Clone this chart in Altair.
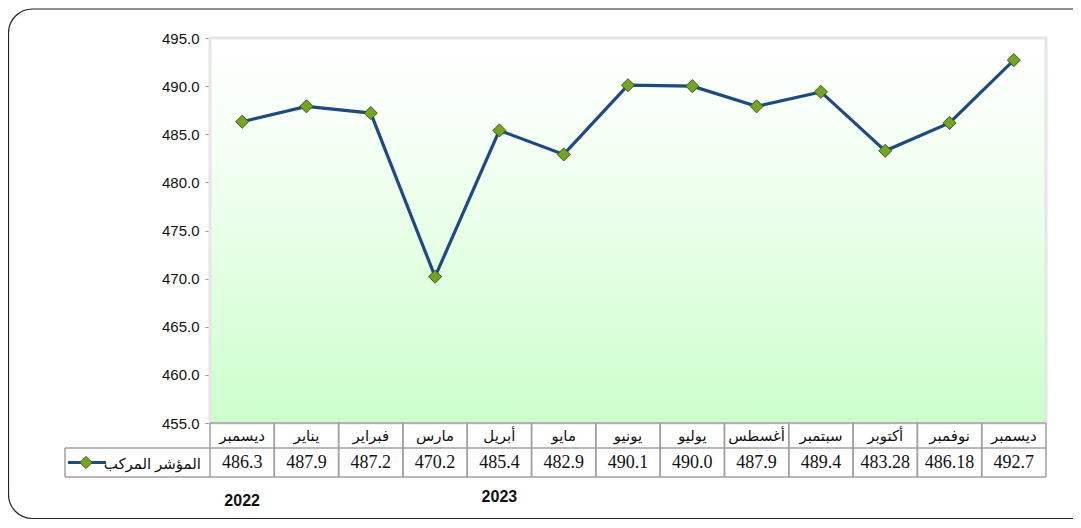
import altair as alt
import pandas as pd

# ---- data ----
keys = ["2022-12", "2023-01", "2023-02", "2023-03", "2023-04", "2023-05", "2023-06",
        "2023-07", "2023-08", "2023-09", "2023-10", "2023-11", "2023-12"]
months = ["ديسمبر", "يناير", "فبراير", "مارس", "أبريل", "مايو", "يونيو",
          "يوليو", "أغسطس", "سبتمبر", "أكتوبر", "نوفمبر", "ديسمبر"]
values = [486.3, 487.9, 487.2, 470.2, 485.4, 482.9, 490.1,
          490.0, 487.9, 489.4, 483.28, 486.18, 492.7]
value_labels = ["486.3", "487.9", "487.2", "470.2", "485.4", "482.9", "490.1",
                "490.0", "487.9", "489.4", "483.28", "486.18", "492.7"]
y_ticks = [455, 460, 465, 470, 475, 480, 485, 490, 495]
series_name = "المؤشر المركب"
years = ["2022", "2023"]

df = pd.DataFrame({"key": keys, "month": months, "value": values, "label": value_labels})
one = pd.DataFrame({"a": [0]})

W, H = 836, 385
ROW1_Y, ROW2_Y, TABLE_BOTTOM = 397.5, 424.5, 439

xscale = alt.Scale(type="band", domain=keys, paddingInner=0, paddingOuter=0)
yscale = alt.Scale(domain=[455, 495], nice=False, zero=False)

LINE_COLOR = "#1f4a7e"
GRID = "#a0a0a0"

# outer rounded frame
frame = alt.Chart(one).mark_rect(
    fill="white", fillOpacity=0, stroke="#222222", strokeWidth=1.2, cornerRadius=24
).encode(x=alt.value(-201.5), x2=alt.value(900), y=alt.value(-29), y2=alt.value(480.5))

# gradient plot background
grad = alt.Gradient(
    gradient="linear", x1=0, x2=0, y1=0, y2=1,
    stops=[alt.GradientStop(color="#ffffff", offset=0),
           alt.GradientStop(color="#f6fff6", offset=0.25),
           alt.GradientStop(color="#ccffcc", offset=1)],
)
bg = alt.Chart(one).mark_rect(fill=grad, stroke="#e6e6e6", strokeWidth=3).encode(
    x=alt.value(0), x2=alt.value(W), y=alt.value(0), y2=alt.value(H)
)

# table grid lines
vlines_left = alt.Chart(df).mark_rule(color=GRID, strokeWidth=1.5).encode(
    x=alt.X("key:N", scale=xscale, bandPosition=0, axis=None),
    y=alt.value(H), y2=alt.value(TABLE_BOTTOM),
)
vlines_right = alt.Chart(df).mark_rule(color=GRID, strokeWidth=1.5).encode(
    x=alt.X("key:N", scale=xscale, bandPosition=1, axis=None),
    y=alt.value(H), y2=alt.value(TABLE_BOTTOM),
)
hlines = alt.Chart(pd.DataFrame({"yy": [H, 410, TABLE_BOTTOM], "x0": [0, -145, -145]})).mark_rule(
    color=GRID, strokeWidth=1.5
).encode(x=alt.X("x0:Q", scale=None), x2=alt.value(W), y=alt.Y("yy:Q", scale=None))
legend_border = alt.Chart(one).mark_rule(color=GRID, strokeWidth=1.5).encode(
    x=alt.value(-145), y=alt.value(410), y2=alt.value(TABLE_BOTTOM)
)

# series
line = alt.Chart(df).mark_line(color=LINE_COLOR, strokeWidth=3.2).encode(
    x=alt.X("key:N", scale=xscale, bandPosition=0.5, axis=None, sort=keys),
    y=alt.Y("value:Q", scale=yscale, title=None,
            axis=alt.Axis(values=y_ticks, format=".1f", grid=False, labelFont="Liberation Sans",
                          labelFontSize=15, labelColor="#111111", tickSize=5, tickColor="#999999",
                          domainColor="#999999", domainWidth=1.5, labelPadding=6)),
)
points = alt.Chart(df).mark_point(
    shape="diamond", filled=True, size=170, fill="#74a326", stroke="#3b5a10", strokeWidth=1, opacity=1
).encode(
    x=alt.X("key:N", scale=xscale, bandPosition=0.5, axis=None),
    y=alt.Y("value:Q", scale=yscale),
)

# table text
month_text = alt.Chart(df).mark_text(
    font="Liberation Serif, DejaVu Sans", fontSize=15, color="#111111", baseline="middle"
).encode(x=alt.X("key:N", scale=xscale, bandPosition=0.5, axis=None), y=alt.value(ROW1_Y), text="month:N")
value_text = alt.Chart(df).mark_text(
    font="Liberation Serif", fontSize=18, color="#111111", baseline="middle"
).encode(x=alt.X("key:N", scale=xscale, bandPosition=0.5, axis=None), y=alt.value(ROW2_Y), text="label:N")

# legend inside table
leg_line = alt.Chart(one).mark_rule(color=LINE_COLOR, strokeWidth=3).encode(
    x=alt.value(-142), x2=alt.value(-104), y=alt.value(ROW2_Y)
)
leg_point = alt.Chart(one).mark_point(
    shape="diamond", filled=True, size=150, fill="#74a326", stroke="#3b5a10", strokeWidth=1, opacity=1
).encode(x=alt.value(-124), y=alt.value(ROW2_Y))
leg_text = alt.Chart(pd.DataFrame({"t": [series_name]})).mark_text(
    font="Liberation Serif, DejaVu Sans", fontSize=15, color="#111111", align="right", baseline="middle"
).encode(x=alt.value(-9), y=alt.value(ROW2_Y + 1), text="t:N")

# year annotations
year_df = pd.DataFrame({"year": years, "key": ["2022-12", "2023-04"], "dy": [463, 459]})
year_text = alt.Chart(year_df).mark_text(
    font="Liberation Sans", fontSize=16, fontWeight="bold", color="#111111", baseline="middle"
).encode(
    x=alt.X("key:N", scale=xscale, bandPosition=0.5, axis=None),
    y=alt.Y("dy:Q", scale=None),
    text="year:N",
)

chart = alt.layer(
    frame, bg, vlines_left, vlines_right, hlines, legend_border,
    line, points, month_text, value_text, leg_line, leg_point, leg_text, year_text
).properties(
    width=W, height=H,
    autosize=alt.AutoSizeParams(type="none"),
    padding={"left": 202, "top": 30, "right": 27, "bottom": 97},
).configure_view(stroke=None)

chart.save("out.html", embed_options={"renderer": "svg", "actions": False})
